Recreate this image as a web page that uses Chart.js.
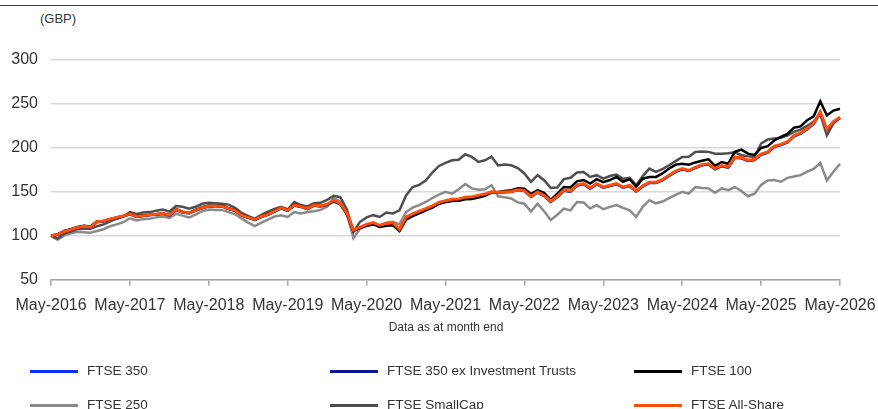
<!DOCTYPE html>
<html>
<head>
<meta charset="utf-8">
<script src="https://cdn.jsdelivr.net/npm/chart.js@4.4.1/dist/chart.umd.min.js"></script>
<style>
  body { margin: 0; background: #fff; font-family: "Liberation Sans", Arial, sans-serif; }
  #wrap { position: relative; width: 878px; height: 409px; overflow: hidden; }
  #topline { position: absolute; left: 0; top: 5px; width: 878px; height: 0; border-top: 1px solid #1f3a9e; }
  #unit { position: absolute; left: 40px; top: 11px; font-size: 13px; color: #333; }
  #note { position: absolute; left: 296px; top: 320px; width: 300px; text-align: center; font-size: 12px; color: #333; }
  #myChart { position: absolute; left: 0; top: 0; }
  .item { position: absolute; font-size: 13.5px; color: #333; white-space: nowrap; }
  .item span { position: absolute; top: 0; height: 3px; width: 48px; }
</style>
</head>
<body>
<div id="wrap">
  <div id="topline"></div>
  <div id="unit">(GBP)</div>
  <canvas id="myChart" width="878" height="409"></canvas>
  <div id="note">Data as at month end</div>
  <div id="legend"></div>
</div>
<script>
// monthly values, May-2016 .. May-2026
const allShare = [100, 101.5, 105, 107, 109.5, 111, 110, 116, 117, 119, 121, 122.5,
  125, 122, 123, 124, 124.5, 125.5, 123.5, 130, 127, 126, 129, 132,
  134, 133.5, 134, 131, 129, 123.5, 121, 118.5, 122, 124.5, 128, 132,
  129, 135, 133.5, 131, 135, 134, 136, 140.5, 137, 126, 106.5, 110,
  113, 115, 112, 114, 115, 107.5, 121.5, 125, 128, 131, 134, 138,
  140, 141.5, 142, 144, 144.5, 146, 147.5, 150, 149.5, 150, 150.5, 152.5,
  151.5, 145, 150, 146, 139.5, 145, 152, 151, 158, 159.5, 154.5, 159.5,
  155.5, 157.5, 159.5, 155.5, 157.5, 151, 157, 161, 161, 164, 169, 173.5,
  176.5, 174.5, 178, 181, 182, 176.5, 180, 178.5, 189.5, 189, 186, 187,
  193, 195.5, 202, 204, 207, 214, 217, 222, 228, 241, 221, 230,
  235];

const ftse350 = [100, 101.4, 104.9, 106.9, 109.4, 110.8, 109.8, 115.8, 116.8, 118.8, 120.8, 122.3,
  124.8, 121.8, 122.8, 123.8, 124.3, 125.3, 123.3, 129.7, 126.8, 125.8, 128.8, 131.7,
  133.7, 133.2, 133.7, 130.7, 128.7, 123.2, 120.7, 118.2, 121.7, 124.2, 127.7, 131.6,
  128.7, 134.6, 133.2, 130.7, 134.6, 133.7, 135.5, 140, 136.5, 125.5, 106, 109.5,
  112.2, 114, 111, 113, 113.8, 106.6, 120.3, 124, 127, 130, 133, 137,
  139, 140.6, 141, 143, 143.5, 145, 146.8, 149.6, 149.2, 149.8, 150.4, 152.4,
  151.3, 144.7, 149.6, 145.5, 139, 144.5, 151.5, 150.5, 157.5, 159, 154, 159,
  155, 157, 159, 155, 157, 150.5, 156.5, 160.5, 160.5, 163.5, 168.5, 173,
  176, 174, 177.5, 180.5, 181.5, 176, 179.5, 178, 189, 188.5, 185.5, 186.5,
  192.5, 195, 201.5, 203.5, 206.5, 213.5, 216.5, 221.5, 227.5, 240.5, 220.5, 229.5,
  234.5];

const ftse350exIT = [100, 101.3, 104.8, 106.8, 109.3, 110.7, 109.7, 115.7, 116.7, 118.7, 120.6, 122.1,
  124.6, 121.6, 122.6, 123.6, 124.1, 125.1, 123.1, 129.5, 126.6, 125.6, 128.6, 131.5,
  133.5, 133, 133.5, 130.5, 128.5, 123, 120.5, 118, 121.5, 124, 127.5, 131.4,
  128.5, 134.4, 133, 130.5, 134.4, 133.5, 135.2, 139.7, 136.2, 125.2, 105.8, 109.2,
  111.8, 113.6, 110.6, 112.5, 113.3, 106.1, 119.8, 123.5, 126.5, 129.6, 132.6, 136.6,
  138.6, 140.2, 140.6, 142.6, 143.1, 144.6, 146.4, 149.4, 149, 149.6, 150.2, 152.2,
  151.1, 144.4, 149.3, 145.2, 138.6, 144.2, 151.2, 150.2, 157.2, 158.7, 153.7, 158.7,
  154.7, 156.7, 158.7, 154.7, 156.7, 150.2, 156.2, 160.2, 160.2, 163.2, 168.2, 172.7,
  175.7, 173.7, 177.2, 180.2, 181.2, 175.7, 179.2, 177.7, 188.7, 188.2, 185.2, 186.2,
  192.2, 194.7, 201.2, 203.2, 206.2, 213.2, 216.2, 221.2, 227.2, 240.2, 220.2, 229.2,
  234.2];

const ftse100 = [100, 101.8, 105.5, 107.5, 110, 111.5, 110.5, 116.5, 117, 119, 121, 122.5,
  125.5, 122.5, 123.5, 124, 124.5, 125.5, 123.5, 130.5, 127.5, 126, 129.5, 132.5,
  134.5, 134, 134.5, 131.5, 129.5, 124, 121.5, 118.5, 122.5, 125, 128.5, 132,
  129.5, 135.5, 134, 131, 135.5, 134, 135.5, 139, 136, 124.5, 105.5, 109,
  111.5, 113, 110, 111.5, 112, 105.5, 118.5, 122.5, 125.5, 129, 132, 136.5,
  138.5, 139.5, 140, 141.5, 142, 143.5, 145.5, 149.5, 150, 151, 152, 154,
  153.5, 147.5, 152, 149, 141, 148, 155.5, 155, 162, 163.5, 159.5, 164.5,
  161, 163.5, 167, 161.5, 164.5, 155.7, 165, 167, 167, 171, 176.5, 181,
  182, 181, 183.5, 185.5, 187, 179.5, 184, 182, 195.5, 198, 193.5, 192,
  200, 202, 208.5, 212.5, 216, 223, 224.5, 231.5, 236, 253, 237, 242.5,
  244.5];

const ftse250 = [100, 95.5, 100.5, 103, 104.5, 104, 103.5, 105.5, 107.5, 111, 113, 115.5,
  120, 117.5, 119, 119.5, 121, 122, 120.5, 125, 123, 121, 124, 128,
  130, 129.5, 129.5, 127, 124.5, 119.5, 115, 111, 115, 118.5, 122, 123.5,
  121.5, 127, 125.5, 127, 128, 129.5, 133, 143, 139, 125, 97.5, 108,
  112, 114, 111.5, 115, 116, 113, 127, 132, 135, 138.5, 143, 147,
  150, 148, 153, 159, 154, 152.5, 153, 157.5, 145, 144, 142.5, 138,
  136.5, 127.5, 136.5, 128, 118, 124, 131, 129, 138.5, 138, 131, 134.8,
  130.3, 133, 135, 131.8, 129, 121.6, 133, 140.5, 137, 139, 143, 146.5,
  150, 148, 155.5, 154.5, 154, 149, 154, 152, 155.5, 151, 145, 148,
  158, 163, 163.5, 161.5, 166, 167.5, 169, 173, 176, 183, 163, 173,
  182];

const smallCap = [100, 97, 102.5, 105, 107.5, 108, 108, 111, 113, 116.5, 119.5, 122,
  127, 125, 126.5, 127, 128.5, 130, 127.5, 134, 133, 131, 133, 136.5,
  137.5, 137, 136.5, 135.5, 132, 126, 122.5, 119.5, 124, 127.5, 130.5, 133,
  130, 138.5, 135, 133.5, 137, 137.5, 141, 145.5, 144, 130, 104.5, 116,
  121, 123.5, 121.5, 126.5, 125.5, 129, 146, 155.5, 158, 163, 172, 179.5,
  183, 186, 186.5, 192.8, 189.8, 184, 186, 190, 180, 181, 180.3, 177,
  171, 161.5, 169, 163.3, 154.5, 155, 164.5, 166, 172, 172.7, 167, 169,
  165, 168, 169.7, 165, 166, 157.6, 168, 176.5, 172.7, 176, 180.3, 185,
  189.8, 190, 195.5, 196, 195.5, 193.5, 193.5, 194, 195, 191.7, 190.5, 189.8,
  205, 209.5, 210.6, 211.5, 214, 218.2, 220.8, 225, 230, 238.3, 214.4, 228,
  234.4];

const yTicks = [50, 100, 150, 200, 250, 300];

const monthNames = ['Jan', 'Feb', 'Mar', 'Apr', 'May', 'Jun', 'Jul', 'Aug', 'Sep', 'Oct', 'Nov', 'Dec'];
const categories = [];
for (let i = 0; i < allShare.length; i++) {
  const m = (4 + i) % 12;
  const y = 2016 + Math.floor((4 + i) / 12);
  categories.push(monthNames[m] + '-' + y);
}

const series = [
  { label: 'FTSE 350', data: ftse350, color: '#0a2cff', width: 2.5, order: 3 },
  { label: 'FTSE 350 ex Investment Trusts', data: ftse350exIT, color: '#0b1596', width: 2.5, order: 2 },
  { label: 'FTSE 100', data: ftse100, color: '#000000', width: 2.5, order: 1 },
  { label: 'FTSE 250', data: ftse250, color: '#8a8a8a', width: 2.5, order: 5 },
  { label: 'FTSE SmallCap', data: smallCap, color: '#4f4f4f', width: 2.5, order: 4 },
  { label: 'FTSE All-Share', data: allShare, color: '#ff4e0a', width: 3, order: 0 }
];

const FONT = '"Liberation Sans", Arial, sans-serif';
const ctx = document.getElementById('myChart');

new Chart(ctx, {
  type: 'line',
  data: {
    labels: categories,
    datasets: series.map(s => ({
      label: s.label,
      data: s.data,
      borderColor: s.color,
      backgroundColor: s.color,
      borderWidth: s.width,
      pointRadius: 0,
      tension: 0,
      order: s.order
    }))
  },
  options: {
    responsive: false,
    animation: false,
    layout: { padding: { top: 60, right: 38, bottom: 84, left: 0 } },
    plugins: { legend: { display: false }, tooltip: { enabled: false } },
    scales: {
      x: {
        offset: false,
        afterFit: function (scale) { scale.paddingLeft = 0; scale.paddingRight = 0; },
        grid: { drawOnChartArea: false, drawTicks: true, tickLength: 6, color: '#a6a6a6', lineWidth: 1.5 },
        border: { display: true, color: '#a6a6a6', width: 1.5 },
        ticks: {
          autoSkip: false, maxRotation: 0, padding: 10,
          color: '#333', font: { family: FONT, size: 16 },
          callback: function (v, i) { return i % 12 === 0 ? categories[i] : null; }
        }
      },
      y: {
        min: 50, max: 300,
        afterFit: function (scale) { scale.width = 51; },
        afterBuildTicks: function (scale) { scale.ticks = yTicks.map(v => ({ value: v })); },
        grid: { color: '#d9d9d9', lineWidth: 1.5, drawTicks: false },
        border: { display: false },
        ticks: { padding: 13, color: '#333', font: { family: FONT, size: 16 } }
      }
    }
  }
});

// legend, 3 columns x 2 rows
const legendPos = [[30, 363], [330, 363], [634, 363], [30, 397], [330, 397], [634, 397]];
const legend = document.getElementById('legend');
series.forEach((s, i) => {
  const d = document.createElement('div');
  d.className = 'item';
  d.style.left = legendPos[i][0] + 'px';
  d.style.top = legendPos[i][1] + 'px';
  d.innerHTML = '<span style="left:0;top:7px;background:' + s.color + '"></span>' +
    '<b style="font-weight:normal;margin-left:57px">' + s.label + '</b>';
  legend.appendChild(d);
});
</script>
</body>
</html>
